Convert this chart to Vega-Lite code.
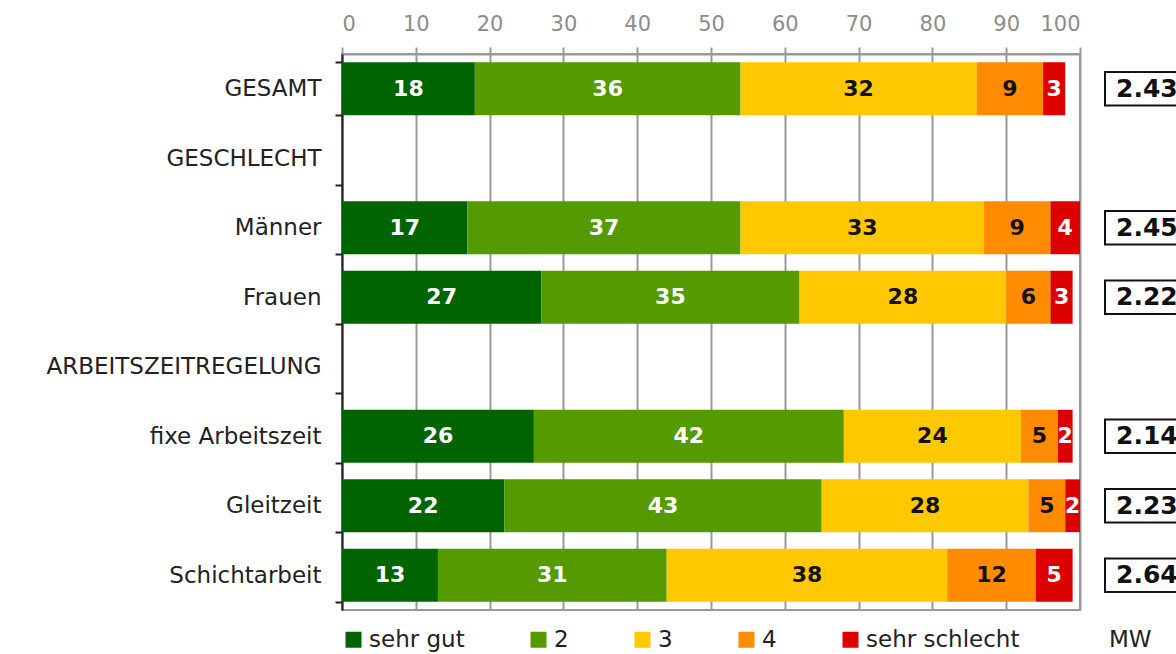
{
  "$schema": "https://vega.github.io/schema/vega-lite/v6.json",
  "padding": {"left": 45, "top": 12, "right": 0, "bottom": 0},
  "background": "white",
  "config": {
    "font": "DejaVu Sans",
    "view": {"stroke": null},
    "concat": {"spacing": 22}
  },
  "datasets": {
    "bars": [
      {"cat": "GESAMT", "level": "sehr gut", "order": 1, "value": 18},
      {"cat": "GESAMT", "level": "2", "order": 2, "value": 36},
      {"cat": "GESAMT", "level": "3", "order": 3, "value": 32},
      {"cat": "GESAMT", "level": "4", "order": 4, "value": 9},
      {"cat": "GESAMT", "level": "sehr schlecht", "order": 5, "value": 3},
      {"cat": "Männer", "level": "sehr gut", "order": 1, "value": 17},
      {"cat": "Männer", "level": "2", "order": 2, "value": 37},
      {"cat": "Männer", "level": "3", "order": 3, "value": 33},
      {"cat": "Männer", "level": "4", "order": 4, "value": 9},
      {"cat": "Männer", "level": "sehr schlecht", "order": 5, "value": 4},
      {"cat": "Frauen", "level": "sehr gut", "order": 1, "value": 27},
      {"cat": "Frauen", "level": "2", "order": 2, "value": 35},
      {"cat": "Frauen", "level": "3", "order": 3, "value": 28},
      {"cat": "Frauen", "level": "4", "order": 4, "value": 6},
      {"cat": "Frauen", "level": "sehr schlecht", "order": 5, "value": 3},
      {"cat": "fixe Arbeitszeit", "level": "sehr gut", "order": 1, "value": 26},
      {"cat": "fixe Arbeitszeit", "level": "2", "order": 2, "value": 42},
      {"cat": "fixe Arbeitszeit", "level": "3", "order": 3, "value": 24},
      {"cat": "fixe Arbeitszeit", "level": "4", "order": 4, "value": 5},
      {"cat": "fixe Arbeitszeit", "level": "sehr schlecht", "order": 5, "value": 2},
      {"cat": "Gleitzeit", "level": "sehr gut", "order": 1, "value": 22},
      {"cat": "Gleitzeit", "level": "2", "order": 2, "value": 43},
      {"cat": "Gleitzeit", "level": "3", "order": 3, "value": 28},
      {"cat": "Gleitzeit", "level": "4", "order": 4, "value": 5},
      {"cat": "Gleitzeit", "level": "sehr schlecht", "order": 5, "value": 2},
      {"cat": "Schichtarbeit", "level": "sehr gut", "order": 1, "value": 13},
      {"cat": "Schichtarbeit", "level": "2", "order": 2, "value": 31},
      {"cat": "Schichtarbeit", "level": "3", "order": 3, "value": 38},
      {"cat": "Schichtarbeit", "level": "4", "order": 4, "value": 12},
      {"cat": "Schichtarbeit", "level": "sehr schlecht", "order": 5, "value": 5}
    ],
    "mw": [
      {"cat": "GESAMT", "mw": 2.43},
      {"cat": "Männer", "mw": 2.45},
      {"cat": "Frauen", "mw": 2.22},
      {"cat": "fixe Arbeitszeit", "mw": 2.14},
      {"cat": "Gleitzeit", "mw": 2.23},
      {"cat": "Schichtarbeit", "mw": 2.64}
    ]
  },
  "resolve": {"scale": {"y": "shared"}},
  "hconcat": [
    {
      "width": 738,
      "height": 556,
      "view": {"stroke": "#999999", "strokeWidth": 2},
      "data": {"name": "bars"},
      "transform": [
        {"stack": "value", "groupby": ["cat"], "sort": [{"field": "order", "order": "ascending"}], "as": ["v0", "v1"]},
        {"calculate": "(datum.v0 + datum.v1) / 2", "as": "mid"}
      ],
      "layer": [
        {
          "mark": {"type": "bar"},
          "encoding": {
            "y": {
              "field": "cat", "type": "nominal", "sort": null,
              "scale": {"domain": ["GESAMT", "GESCHLECHT", "Männer", "Frauen", "ARBEITSZEITREGELUNG", "fixe Arbeitszeit", "Gleitzeit", "Schichtarbeit"], "paddingInner": 0.24, "paddingOuter": 0.12},
              "axis": {
                "title": null, "orient": "left", "domainColor": "#222222", "domainWidth": 2,
                "tickColor": "#222222", "tickWidth": 2, "tickSize": 7, "tickBand": "extent",
                "labelFontSize": 23, "labelColor": "#222222", "labelPadding": 14, "labelLimit": 400, "grid": false
              }
            },
            "x": {
              "field": "v0", "type": "quantitative",
              "scale": {"domain": [0, 100], "nice": false},
              "axis": {
                "title": null, "orient": "top", "values": [0, 10, 20, 30, 40, 50, 60, 70, 80, 90, 100],
                "domainColor": "#999999", "domainWidth": 2, "tickColor": "#999999", "tickWidth": 2, "tickSize": 7,
                "labelFontSize": 21, "labelColor": "#8c8c8c", "labelPadding": 13,
                "grid": true, "gridColor": "#999999", "gridWidth": 2
              }
            },
            "x2": {"field": "v1"},
            "color": {
              "field": "level", "type": "nominal",
              "scale": {
                "domain": ["sehr gut", "2", "3", "4", "sehr schlecht", "MW"],
                "range": ["#006400", "#559a00", "#ffc800", "#ff8c00", "#dd0000", "#ffffff"]
              },
              "legend": {
                "title": null, "orient": "bottom", "direction": "horizontal", "offset": 17,
                "symbolType": "square", "symbolSize": 256, "symbolStrokeWidth": 0,
                "labelFontSize": 23, "labelColor": "#222222", "columnPadding": 62, "labelOffset": 4
              }
            }
          }
        },
        {
          "mark": {"type": "text", "fontSize": 22, "fontWeight": "bold", "baseline": "middle", "align": "center"},
          "encoding": {
            "y": {"field": "cat", "type": "nominal", "sort": null},
            "x": {"field": "mid", "type": "quantitative"},
            "text": {"field": "value", "type": "quantitative"},
            "color": {"condition": {"test": "datum.level === '3' || datum.level === '4'", "value": "#111111"}, "value": "white"}
          }
        }
      ]
    },
    {
      "width": 100,
      "height": 556,
      "view": {"stroke": null},
      "data": {"name": "mw"},
      "layer": [
        {
          "mark": {"type": "bar", "fill": "white", "stroke": "#111111", "strokeWidth": 2, "height": {"band": 0.63}},
          "encoding": {
            "y": {"field": "cat", "type": "nominal", "sort": null, "axis": null},
            "x": {"datum": 0, "type": "quantitative", "scale": {"domain": [0, 1], "nice": false}, "axis": null},
            "x2": {"datum": 1}
          }
        },
        {
          "mark": {"type": "text", "align": "left", "baseline": "middle", "dx": 11, "fontSize": 25, "fontWeight": "bold", "color": "#111111"},
          "encoding": {
            "y": {"field": "cat", "type": "nominal", "sort": null, "axis": null},
            "x": {"datum": 0, "type": "quantitative"},
            "text": {"field": "mw", "type": "quantitative", "format": ".2f"}
          }
        }
      ]
    }
  ]
}
